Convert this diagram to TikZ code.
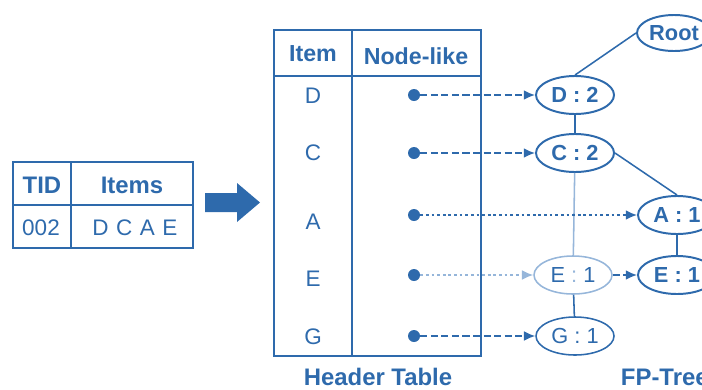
\documentclass[tikz,border=0pt]{standalone}
\usepackage{fontspec}
\setmainfont{Liberation Sans}
\usetikzlibrary{arrows.meta,shapes.geometric}

\definecolor{fpblue}{RGB}{46,106,172}
\definecolor{fplight}{RGB}{150,182,218}

\tikzset{
  cell/.style={draw=fpblue, line width=1.4pt},
  hdr/.style={text=fpblue, font=\bfseries\fontsize{16.5}{16.5}\selectfont},
  entry/.style={text=fpblue, font=\fontsize{16}{16}\selectfont},
  fpnode/.style={draw=fpblue, line width=1.4pt, ellipse, inner sep=0pt,
    minimum width=1.95cm, minimum height=0.95cm, text=fpblue,
    font=\bfseries\fontsize{15.5}{15.5}\selectfont},
  dot/.style={circle, fill=fpblue, inner sep=0pt, minimum size=0.3cm},
  edge/.style={draw=fpblue, line width=1.1pt},
  link/.style={draw=fpblue, line width=1.1pt, dash pattern=on 5pt off 2.5pt,
    -{Latex[length=8pt,width=7pt]}},
  dotlink/.style={link, dash pattern=on 2pt off 2pt}
}

\begin{document}
\begin{tikzpicture}[x=0.025cm, y=-0.025cm]
% picture frame (pixel units)
\useasboundingbox (0,0) rectangle (702,389);
\clip (0,0) rectangle (702,389);

% transaction table
\draw[cell] (13,162) rectangle (193,248);
\draw[cell] (71,162) -- (71,248);
\draw[cell] (13,205) -- (193,205);
\node[hdr, font=\bfseries\fontsize{17}{17}\selectfont] (tid) at (42,185) {TID};
\node[hdr, font=\bfseries\fontsize{17}{17}\selectfont] (items) at (132,185) {Items};
\node[entry] (tidval) at (41,228) {002};
\node[entry] (itemsval) at (135,228) {D\,\,C\,\,A\,\,E};

% big arrow
\fill[fpblue] (205,193) -- (237,193) -- (237,183) -- (260,202.5)
  -- (237,222) -- (237,212) -- (205,212) -- cycle;

% header table
\draw[cell] (274,30) rectangle (481,356);
\draw[cell] (352,30) -- (352,356);
\draw[cell] (274,76) -- (481,76);
\node[hdr] (hitem) at (313,54) {Item};
\node[hdr] (hlink) at (416,56) {Node-like};
\node[hdr, font=\bfseries\fontsize{17}{17}\selectfont] (htitle) at (378,377) {Header Table};

\node[entry] (iD) at (313,96) {D};
\node[entry] (iC) at (313,153) {C};
\node[entry] (iA) at (313,222) {A};
\node[entry] (iE) at (313,279) {E};
\node[entry] (iG) at (313,337) {G};

\node[dot] (dD) at (414,95) {};
\node[dot] (dC) at (414,153) {};
\node[dot] (dA) at (414,215) {};
\node[dot] (dE) at (414,275) {};
\node[dot] (dG) at (414,336) {};

% FP-tree
\node[fpnode, minimum width=1.85cm, minimum height=0.9cm] (nRoot) at (674,33) {Root};
\node[fpnode] (nD) at (575,95) {D : 2};
\node[fpnode] (nC) at (575,153) {C : 2};
\node[fpnode] (nA) at (677,215) {A : 1};
\node[fpnode, draw=fplight, line width=1.1pt, font=\fontsize{15.5}{15.5}\selectfont] (nE1) at (573,275) {E\;\textcolor{fplight}{:}\;1};
\node[fpnode] (nE2) at (677,275) {E : 1};
\node[fpnode, line width=1.1pt, font=\fontsize{15.5}{15.5}\selectfont] (nG) at (575,336) {G : 1};
\node[hdr, anchor=west, font=\bfseries\fontsize{17}{17}\selectfont] (fptitle) at (616,377) {FP-Tree};

\draw[edge] (nD.north) -- (nRoot.west);
\draw[edge] (nD) -- (nC);
\draw[edge] (nC.east) -- (nA.north);
\draw[edge] (nA) -- (nE2);
\draw[edge, draw=fplight] (nC) -- (nE1);
\draw[edge] (nE1) -- (nG);

% node links
\draw[link] (dD) -- (nD);
\draw[link] (dC) -- (nC);
\draw[dotlink] (dA) -- (nA);
\draw[dotlink, draw=fplight] (dE) -- (nE1);
\draw[link] (nE1) -- (nE2);
\draw[link] (dG) -- (nG);
\end{tikzpicture}
\end{document}
